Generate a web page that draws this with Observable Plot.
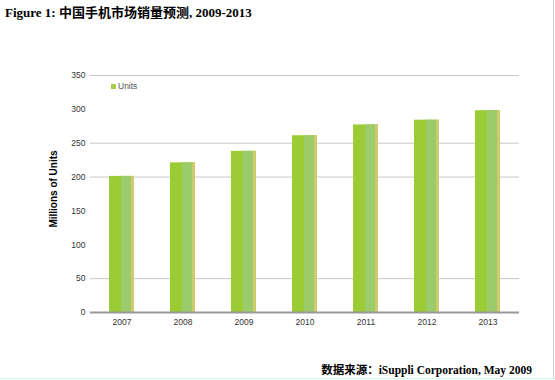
<!DOCTYPE html>
<html>
<head>
<meta charset="utf-8">
<script src="https://cdn.jsdelivr.net/npm/d3@7"></script>
<script src="https://cdn.jsdelivr.net/npm/@observablehq/plot@0.6"></script>
<style>
  html, body { margin: 0; padding: 0; background: #fff; }
  #wrap { position: relative; width: 555px; height: 380px; overflow: hidden; }
  #title { position: absolute; left: 5px; top: 2px; font-family: "Liberation Serif", "Times New Roman", "Noto Sans CJK SC", serif; font-weight: bold; font-size: 13px; color: #000; white-space: nowrap; }
  #caption { position: absolute; right: 23px; top: 364px; line-height: 12px; font-family: "Liberation Serif", "Times New Roman", "Noto Sans CJK SC", serif; font-weight: bold; font-size: 11.5px; color: #000; white-space: nowrap; }
  #legend { position: absolute; left: 95px; top: 79px; width: 62px; height: 16px; background: #fff; font-family: "Liberation Sans", Arial, sans-serif; font-size: 8.5px; color: #555; }
  #legend .sw { position: absolute; left: 16px; top: 5px; width: 5px; height: 5px; background: #a6cf4a; }
  #legend .lb { position: absolute; left: 23px; top: 2px; }
  #chart { position: absolute; left: 0; top: 0; }
  #border-r { position: absolute; left: 553px; top: 0; width: 1px; height: 378px; background: #cfcfcf; }
  #border-b { position: absolute; left: 0; top: 378px; width: 555px; height: 1px; background: #d8f4f4; }
</style>
</head>
<body>
<div id="wrap">
  <div id="chart"></div>
  <div id="legend"><span class="sw"></span><span class="lb">Units</span></div>
  <div id="title">Figure 1: 中国手机市场销量预测, 2009-2013</div>
  <div id="caption">数据来源：iSuppli Corporation, May 2009</div>
  <div id="border-r"></div>
  <div id="border-b"></div>
</div>
<script>
const years = ["2007", "2008", "2009", "2010", "2011", "2012", "2013"];
const units = [201, 221, 238, 261, 277, 284, 298];
const yTicks = [0, 50, 100, 150, 200, 250, 300, 350];
const gridValues = [50, 200, 250, 350];
const seriesName = "Units";

const data = years.map((y, i) => ({year: y, value: units[i]}));

const chart = Plot.plot({
  width: 555,
  height: 380,
  marginLeft: 90,
  marginRight: 36,
  marginTop: 75,
  marginBottom: 68,
  style: {fontFamily: "'Liberation Sans', Arial, sans-serif", fontSize: "8.5px", color: "#333", background: "transparent"},
  x: {type: "band", domain: years, paddingInner: 0.59, paddingOuter: 0.31, label: null},
  y: {domain: [0, 350], label: null},
  marks: [
    Plot.ruleY(gridValues, {stroke: "#c8c8c8", strokeWidth: 1}),
    Plot.barY(data, {x: "year", y: "value", fill: "#9bcb35"}),
    Plot.barY(data, {x: "year", y: "value", fill: "#9ccb6c", insetLeft: 12, insetRight: 3}),
    Plot.barY(data, {x: "year", y: "value", fill: "#cfcb6c", insetLeft: 22}),
    Plot.ruleY([0], {stroke: "#999", strokeWidth: 2}),
    Plot.axisX({tickSize: 0, tickPadding: 6, fill: "#333", label: null}),
    Plot.axisY(yTicks, {tickSize: 0, tickPadding: 5, fill: "#333", label: null}),
    Plot.text([seriesName], {text: () => "Millions of " + seriesName, frameAnchor: "left", textAnchor: "middle", dx: -37, dy: -5, rotate: -90, fontWeight: "bold", fontSize: 10, fill: "#000"})
  ]
});
document.getElementById("chart").appendChild(chart);
</script>
</body>
</html>
